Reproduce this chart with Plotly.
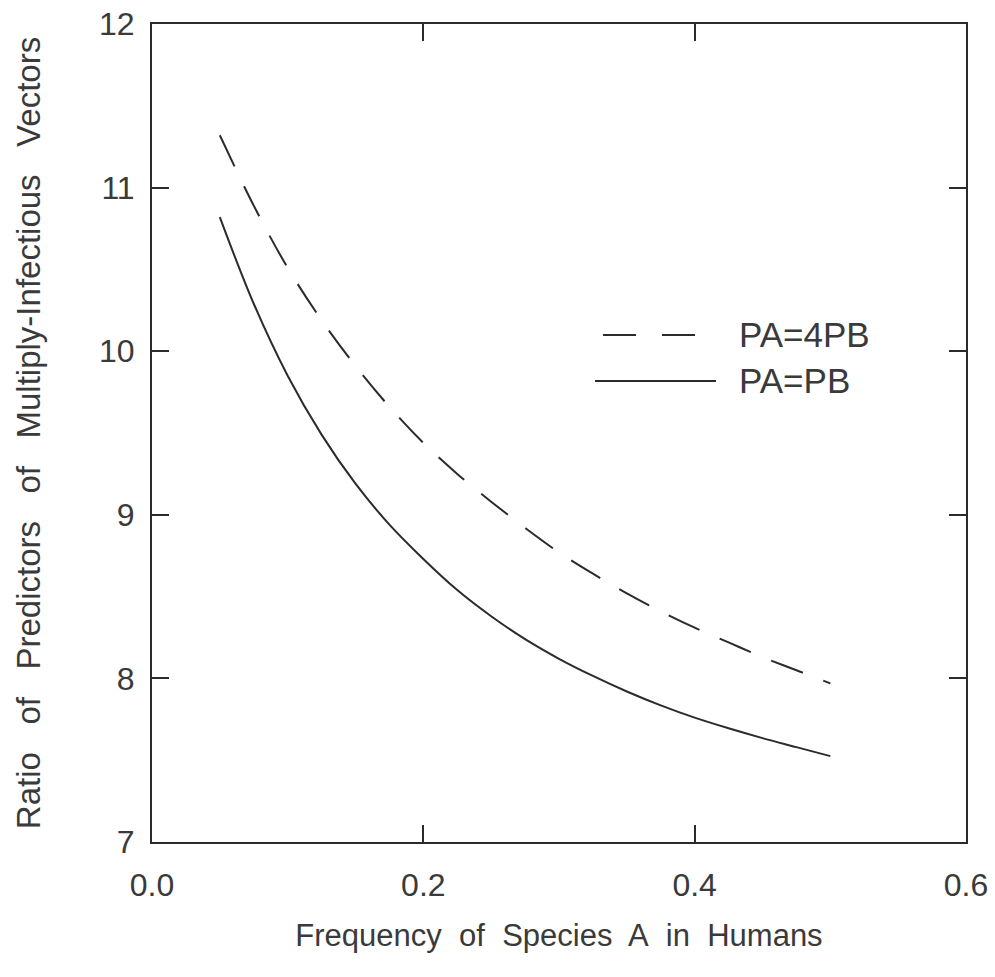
import plotly.graph_objects as go

freq = [0.05, 0.075, 0.1, 0.125, 0.15, 0.175, 0.2, 0.225, 0.25, 0.275,
        0.3, 0.325, 0.35, 0.375, 0.4, 0.425, 0.45, 0.475, 0.5]
ratio_pa_4pb = [11.32, 10.89, 10.51, 10.19, 9.91, 9.66, 9.44, 9.25, 9.08, 8.92,
                8.77, 8.64, 8.52, 8.41, 8.31, 8.22, 8.13, 8.05, 7.97]
ratio_pa_pb = [10.82, 10.29, 9.85, 9.49, 9.19, 8.94, 8.73, 8.54, 8.38, 8.24,
               8.12, 8.015, 7.92, 7.835, 7.76, 7.695, 7.635, 7.58, 7.525]
series_names = ["PA=4PB", "PA=PB"]
x_ticks = [0.0, 0.2, 0.4, 0.6]
x_tick_text = ["0.0", "0.2", "0.4", "0.6"]
y_ticks = [7, 8, 9, 10, 11, 12]

line_col = "#2b2b2b"
text_col = "#3a3a3a"
font_fam = "Liberation Sans, Arial, sans-serif"
SP2 = "\u00a0 "
SP3 = "\u00a0\u00a0 "

# Body margin is removed in the page, so the figure fills the window exactly.
W, H = 995, 977
ML, MR, MT, MB = 152, 29, 24, 135
PW, PH = W - ML - MR, H - MT - MB


def px(x):  # window x -> paper
    return (x - ML) / PW


def py(y):  # window y -> paper
    return 1 - (y - MT) / PH


fig = go.Figure()
fig.add_trace(go.Scatter(x=freq, y=ratio_pa_4pb, mode="lines", name=series_names[0],
                         line=dict(color=line_col, width=2, dash="34px,22px", shape="spline"),
                         showlegend=False))
fig.add_trace(go.Scatter(x=freq, y=ratio_pa_pb, mode="lines", name=series_names[1],
                         line=dict(color=line_col, width=2, shape="spline"),
                         showlegend=False))

# legend drawn manually (long samples like the original)
fig.add_shape(type="line", xref="paper", yref="paper",
              x0=px(603), x1=px(697), y0=py(335), y1=py(335),
              line=dict(color=line_col, width=2, dash="33px,26px"))
fig.add_shape(type="line", xref="paper", yref="paper",
              x0=px(595), x1=px(716), y0=py(381), y1=py(381),
              line=dict(color=line_col, width=2))
for name, ypix in zip(series_names, [334, 380]):
    fig.add_annotation(text=name, xref="paper", yref="paper",
                       x=px(737), y=py(ypix),
                       xanchor="left", yanchor="middle", showarrow=False,
                       font=dict(size=35, color=text_col, family=font_fam))

axis_common = dict(showline=True, linecolor=line_col, linewidth=2, mirror="ticks",
                   ticks="inside", ticklen=17, tickwidth=2, tickcolor=line_col,
                   showgrid=False, zeroline=False, automargin=False,
                   ticklabeloverflow="allow",
                   tickfont=dict(size=32, color=text_col, family=font_fam))

fig.update_xaxes(range=[0, 0.6], tickvals=x_ticks, ticktext=x_tick_text,
                 ticklabelstandoff=14,
                 title=dict(text="Frequency of Species A in Humans".replace(" ", SP2),
                            standoff=22,
                            font=dict(size=31, color=text_col, family=font_fam)),
                 **axis_common)
fig.update_yaxes(range=[7, 12], tickvals=y_ticks, ticklabelstandoff=9,
                 title=dict(text="Ratio of Predictors of Multiply-Infectious Vectors".replace(" ", SP3),
                            standoff=48,
                            font=dict(size=33, color=text_col, family=font_fam)),
                 **axis_common)

fig.update_layout(width=W, height=H, plot_bgcolor="white", paper_bgcolor="white",
                  margin=dict(l=ML, r=MR, t=MT, b=MB), showlegend=False)

fig.write_html("out.html", config={"displayModeBar": False},
               post_script="document.body.style.margin='0';document.body.style.overflow='hidden';")
